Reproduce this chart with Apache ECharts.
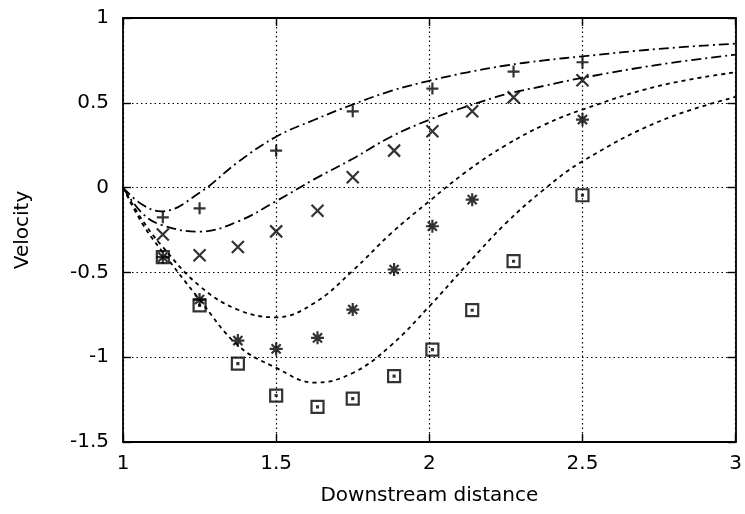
<!DOCTYPE html>
<html><head><meta charset="utf-8">
<script src="https://cdn.jsdelivr.net/npm/echarts@6/dist/echarts.min.js"></script>
<style>html,body{margin:0;padding:0;background:#fff}#c{width:745px;height:514px}</style>
</head><body><div id="c"></div>
<script>
var xTicks = [1, 1.5, 2, 2.5, 3];
var yTicks = [-1.5, -1, -0.5, 0, 0.5, 1];
var xTitle = 'Downstream distance';
var yTitle = 'Velocity';

// measured points
var plusPts = [[1.13,-0.175],[1.25,-0.122],[1.5,0.218],[1.75,0.45],[2.01,0.584],[2.275,0.684],[2.5,0.739]];
var crossPts = [[1.13,-0.277],[1.25,-0.399],[1.375,-0.35],[1.5,-0.258],[1.635,-0.136],[1.75,0.061],[1.885,0.218],[2.01,0.332],[2.14,0.45],[2.275,0.532],[2.5,0.633]];
var starPts = [[1.13,-0.41],[1.25,-0.66],[1.375,-0.902],[1.5,-0.951],[1.635,-0.886],[1.75,-0.719],[1.885,-0.483],[2.01,-0.228],[2.14,-0.071],[2.5,0.401]];
var squarePts = [[1.13,-0.41],[1.25,-0.694],[1.375,-1.038],[1.5,-1.226],[1.635,-1.293],[1.75,-1.244],[1.885,-1.112],[2.01,-0.955],[2.14,-0.723],[2.275,-0.434],[2.5,-0.045]];

// curves
var curveX = [1, 1.0625, 1.125, 1.25, 1.375, 1.5, 1.625, 1.75, 1.875, 2, 2.125, 2.25, 2.375, 2.5, 2.75, 3];
var curveA = [0, -0.10, -0.14, -0.03, 0.15, 0.30, 0.40, 0.49, 0.57, 0.63, 0.68, 0.72, 0.75, 0.774, 0.818, 0.849];
var curveB = [0, -0.15, -0.22, -0.26, -0.20, -0.08, 0.05, 0.17, 0.30, 0.40, 0.48, 0.55, 0.60, 0.647, 0.725, 0.784];
var curveC = [0, -0.19, -0.34, -0.58, -0.72, -0.765, -0.68, -0.49, -0.27, -0.08, 0.10, 0.25, 0.37, 0.46, 0.60, 0.68];
var curveD = [0, -0.21, -0.37, -0.66, -0.93, -1.063, -1.15, -1.093, -0.93, -0.70, -0.45, -0.21, -0.01, 0.155, 0.39, 0.535];

function zipXY(xs, ys){ return xs.map(function(x,i){ return [x, ys[i]]; }); }

var SYM = {
  plus: 'path://M5 0V10M0 5H10',
  cross: 'path://M0 0L10 10M10 0L0 10',
  star: 'path://M5 0V10M0 5H10M1.5 1.5L8.5 8.5M8.5 1.5L1.5 8.5',
  square: 'path://M0 0H10V10H0ZM4.6 4.6H5.4V5.4H4.6Z'
};

function scatter(name, data, sym, size, bw){
  return {
    name: name, type: 'scatter', data: data, symbol: sym, symbolSize: size,
    itemStyle: { color: 'rgba(0,0,0,0)', borderColor: '#000', borderWidth: bw },
    z: 5
  };
}
function curve(name, xs, ys, dash){
  return {
    name: name, type: 'line', data: zipXY(xs, ys), smooth: 0.4, showSymbol: false,
    lineStyle: { color: '#000', width: 1.8, type: dash }, z: 3
  };
}

var font = 'DejaVu Sans, Liberation Sans, sans-serif';
function axisBase(){
  return {
    axisLine: { show: true, onZero: false, lineStyle: { color: '#000', width: 1.8 } },
    axisTick: { show: true, inside: true, length: 8, lineStyle: { color: '#000', width: 1.4 } }
  };
}

var chart = echarts.init(document.getElementById('c'), null, { renderer: 'canvas' });
chart.setOption({
  animation: false,
  backgroundColor: '#fff',
  grid: { left: 123, right: 7, top: 18, bottom: 72, containLabel: false },
  xAxis: [
    Object.assign({
      type: 'value', position: 'bottom', min: xTicks[0], max: xTicks[xTicks.length-1], interval: 0.5,
      name: xTitle, nameLocation: 'middle', nameGap: 44,
      nameTextStyle: { fontFamily: font, fontSize: 20, color: '#000' },
      axisLabel: { fontFamily: font, fontSize: 20, color: '#000', margin: 12 },
      splitLine: { show: true, lineStyle: { color: '#000', width: 1.2, type: [1.5, 3] } }
    }, axisBase()),
    Object.assign({
      type: 'value', position: 'top', min: xTicks[0], max: xTicks[xTicks.length-1], interval: 0.5,
      axisLabel: { show: false }, splitLine: { show: false }
    }, axisBase())
  ],
  yAxis: [
    Object.assign({
      type: 'value', position: 'left', min: yTicks[0], max: yTicks[yTicks.length-1], interval: 0.5,
      name: yTitle, nameLocation: 'middle', nameGap: 90, nameRotate: 90,
      nameTextStyle: { fontFamily: font, fontSize: 20, color: '#000' },
      axisLabel: { fontFamily: font, fontSize: 20, color: '#000', margin: 14 },
      splitLine: { show: true, lineStyle: { color: '#000', width: 1.2, type: [1.5, 3] } }
    }, axisBase()),
    Object.assign({
      type: 'value', position: 'right', min: yTicks[0], max: yTicks[yTicks.length-1], interval: 0.5,
      axisLabel: { show: false }, splitLine: { show: false }
    }, axisBase())
  ],
  series: [
    curve('A', curveX, curveA, [10, 4, 2, 4]),
    curve('B', curveX, curveB, [10, 4, 2, 4]),
    curve('C', curveX, curveC, [4, 4]),
    curve('D', curveX, curveD, [4, 4]),
    scatter('plus', plusPts, SYM.plus, 12, 2.2),
    scatter('cross', crossPts, SYM.cross, 12, 2.2),
    scatter('star', starPts, SYM.star, 13, 2.2),
    scatter('square', squarePts, SYM.square, 12, 2.2)
  ]
});
</script></body></html>
